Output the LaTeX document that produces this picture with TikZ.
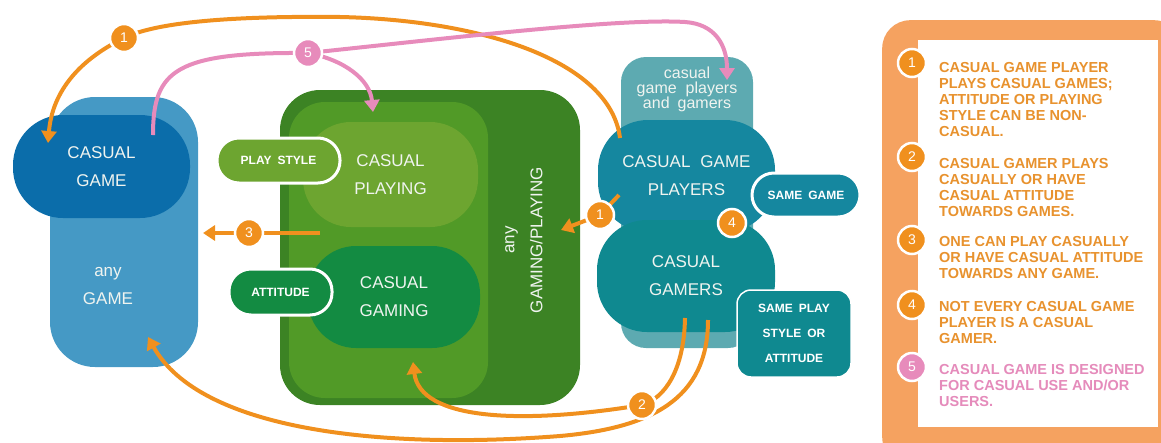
\documentclass[tikz,border=0pt]{standalone}
\usepackage{fontspec}
\setmainfont{Liberation Sans}
\usetikzlibrary{arrows.meta}
\definecolor{anyg}{HTML}{4599C5}
\definecolor{casg}{HTML}{0B6DAA}
\definecolor{gout}{HTML}{3C8324}
\definecolor{gmid}{HTML}{519A27}
\definecolor{gplay}{HTML}{6DA530}
\definecolor{ggam}{HTML}{138B42}
\definecolor{tback}{HTML}{5DAAB1}
\definecolor{tcgp}{HTML}{15879F}
\definecolor{tcg}{HTML}{0F8990}
\definecolor{org}{HTML}{F0901E}
\definecolor{pnk}{HTML}{E78BBB}
\definecolor{legor}{HTML}{F5A260}
\definecolor{legtxt}{HTML}{E8922E}
\definecolor{legpnk}{HTML}{E58BBB}
\definecolor{wtxt}{HTML}{F0F4F0}
\begin{document}
\begin{tikzpicture}[x=1pt,y=-1pt,
  area/.style={rectangle, inner sep=0pt, align=center, text=wtxt},
  bigtxt/.style={font=\fontsize{17}{28}\selectfont},
  pill/.style={rectangle, rounded corners=22pt, draw=white, line width=3pt, inner sep=0pt, text=white, font=\bfseries\fontsize{12}{12}\selectfont},
  badge/.style={circle, fill=org, draw=white, line width=2.5pt, minimum size=28pt, inner sep=0pt, text=white, font=\fontsize{14}{14}\selectfont},
  pbadge/.style={badge, fill=pnk},
  oline/.style={draw=org, line width=4pt},
  pline/.style={draw=pnk, line width=4pt},
  otip/.style={-{Triangle[width=15pt,length=12pt]}},
  legtext/.style={anchor=north west, inner sep=0pt, align=left, text=legtxt, font=\bfseries\fontsize{14.5}{16}\selectfont}
]
\useasboundingbox (0,0) rectangle (1161,442);
\clip (0,0) rectangle (1161,442);

% ---------- left: games ----------
\node[area, fill=anyg, rounded corners=45pt, minimum width=148pt, minimum height=270pt] (anygame) at (124,232) {};
\node[area, bigtxt] (anytxt) at (108,286) {any\\GAME};
\node[area, bigtxt, fill=casg, rounded corners=50pt, minimum width=177pt, minimum height=103pt] (casgame) at (101.5,166.5) {CASUAL\\GAME};

% ---------- middle: green ----------
\node[area, fill=gout, rounded corners=40pt, minimum width=300pt, minimum height=315pt] (gouter) at (430,247.5) {};
\node[area, fill=gmid, rounded corners=36pt, minimum width=199pt, minimum height=296pt] (gmiddle) at (388.5,250) {};
\node[area, bigtxt, fill=gplay, rounded corners=48pt, minimum width=175pt, minimum height=105pt] (playing) at (390.5,174.5) {CASUAL\\PLAYING};
\node[area, bigtxt, fill=ggam, rounded corners=48pt, minimum width=172pt, minimum height=102pt] (gaming) at (394,297) {CASUAL\\GAMING};
\node[area, bigtxt, rotate=90] (anygp) at (524,240) {any\\GAMING/PLAYING};
\node[pill, fill=gplay, minimum width=123pt, minimum height=45pt] (playstyle) at (278.5,160.5) {PLAY\hspace{6pt}STYLE};
\node[pill, fill=ggam, minimum width=103pt, minimum height=46pt] (attitude) at (280.5,292) {ATTITUDE};

% ---------- right: players ----------
\node[area, fill=tback, rounded corners=25pt, minimum width=132pt, minimum height=291pt] (tbackbox) at (687,202.5) {};
\node[area, font=\fontsize{16}{15}\selectfont] (tbacktxt) at (687,89) {casual\\game\hspace{9pt}players\\and\hspace{8pt}gamers};
\node[area, bigtxt, fill=tcgp, rounded corners=50pt, minimum width=177pt, minimum height=112pt] (cgp) at (686.5,176) {CASUAL\hspace{10pt}GAME\\PLAYERS};
\node[area, bigtxt, fill=tcg, rounded corners=50pt, minimum width=178pt, minimum height=112pt] (cg) at (686,276) {CASUAL\\GAMERS};
\node[pill, fill=tcgp, minimum width=108pt, minimum height=44pt] (samegame) at (806,195) {SAME\hspace{6pt}GAME};
\node[rectangle, rounded corners=14pt, draw=white, line width=1.5pt, fill=tcg, minimum width=114pt, minimum height=87pt, inner sep=0pt, align=center, text=white, font=\bfseries\fontsize{12}{25}\selectfont] (sameplay) at (794,333.5) {SAME\hspace{6pt}PLAY\\STYLE\hspace{6pt}OR\\ATTITUDE};

% ---------- connector points ----------
\coordinate (o1s) at (620,138);
\coordinate (o1top) at (340,17);
\coordinate (o1e) at (48,143);
\coordinate (p5s) at (153,135);
\coordinate (p5r) at (685,22);
\coordinate (p5e1) at (727,80);
\coordinate (p5e2) at (373,112);
\coordinate (o3s) at (320,233);
\coordinate (o3e) at (203,233);
\coordinate (o1bs) at (619,195);
\coordinate (o1be) at (561,230);
\coordinate (o2as) at (685,318);
\coordinate (o2ae) at (413,362);
\coordinate (o2bs) at (708,320);
\coordinate (o2bm) at (560,436);
\coordinate (o2be) at (148,337);
\coordinate (c1) at (124,38);
\coordinate (c5) at (308,53);
\coordinate (c3) at (249,233);
\coordinate (c1b) at (600,215);
\coordinate (c2) at (642,405);
\coordinate (c4) at (732,223);

% ---------- connectors ----------
\path[oline] (o1s) .. controls (610,60) and (480,20) .. (o1top)
   .. controls (250,16) and (160,20) .. (c1);
\path[oline, otip] (c1) .. controls (75,62) and (52,95) .. (o1e);
\path[pline] (p5s) .. controls (153,70) and (175,52) .. (c5);
\path[pline] (c5) .. controls (450,38) and (620,18) .. (p5r);
\path[pline, otip] (p5r) .. controls (715,24) and (727,45) .. (p5e1);
\path[pline, otip] (c5) .. controls (345,60) and (370,80) .. (p5e2);
\path[oline, otip] (o3s) -- (o3e);
\path[oline] (o1bs) -- (c1b);
\path[oline, otip] (c1b) -- (o1be);
\path[oline] (o2as) .. controls (684,370) and (665,398) .. (c2);
\path[oline, otip] (c2) .. controls (520,425) and (420,420) .. (o2ae);
\path[oline] (o2bs) .. controls (708,400) and (650,428) .. (o2bm);
\path[oline, otip] (o2bm) .. controls (380,450) and (200,430) .. (o2be);

% ---------- badges ----------
\node[badge] (b1) at (c1) {1};
\node[pbadge] (b5) at (c5) {5};
\node[badge] (b3) at (c3) {3};
\node[badge] (b1b) at (c1b) {1};
\node[badge] (b2) at (c2) {2};
\node[badge] (b4) at (c4) {4};

% ---------- legend ----------
\node[rectangle, rounded corners=28pt, fill=legor, minimum width=300pt, minimum height=445pt, anchor=north west, inner sep=0pt] (legframe) at (882,20) {};
\node[rectangle, fill=white, minimum width=240pt, minimum height=387pt, anchor=north west, inner sep=0pt] (legwhite) at (918,40) {};
\node[badge] (l1) at (912,63) {1};
\node[badge] (l2) at (912,157) {2};
\node[badge] (l3) at (912,240) {3};
\node[badge] (l4) at (912,305) {4};
\node[pbadge] (l5) at (912,367) {5};
\node[legtext] (t1) at (939,62) {CASUAL GAME PLAYER\\PLAYS CASUAL GAMES;\\ATTITUDE OR PLAYING\\STYLE CAN BE NON-\\CASUAL.};
\node[legtext] (t2) at (939,158) {CASUAL GAMER PLAYS\\CASUALLY OR HAVE\\CASUAL ATTITUDE\\TOWARDS GAMES.};
\node[legtext] (t3) at (939,236) {ONE CAN PLAY CASUALLY\\OR HAVE CASUAL ATTITUDE\\TOWARDS ANY GAME.};
\node[legtext] (t4) at (939,301) {NOT EVERY CASUAL GAME\\PLAYER IS A CASUAL\\GAMER.};
\node[legtext, text=legpnk] (t5) at (939,364) {CASUAL GAME IS DESIGNED\\FOR CASUAL USE AND/OR\\USERS.};
\end{tikzpicture}
\end{document}
